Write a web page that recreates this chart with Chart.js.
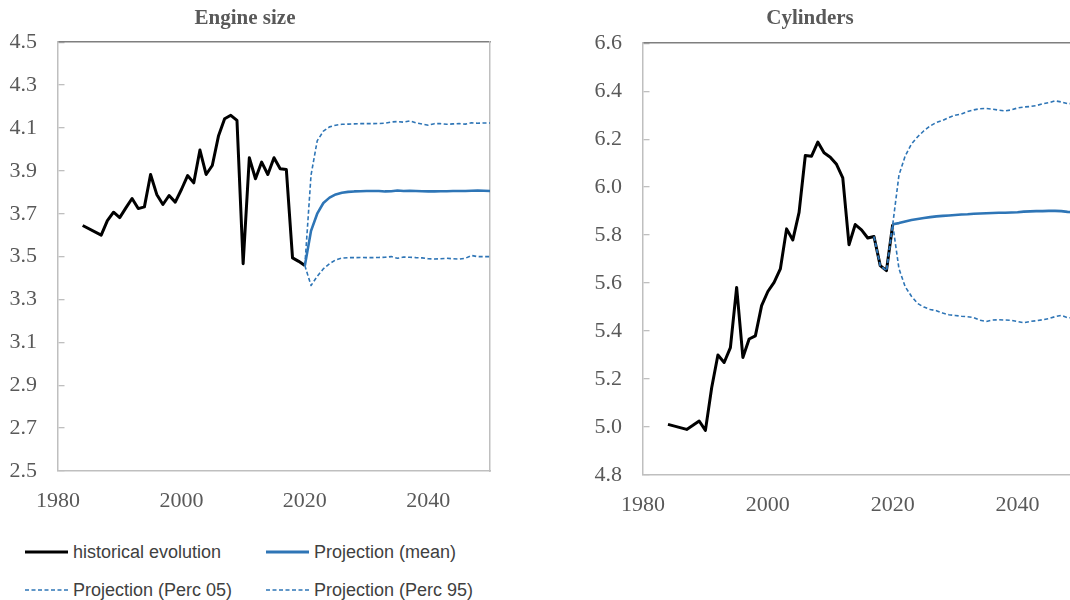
<!DOCTYPE html>
<html lang="en">
<head>
<meta charset="UTF-8">
<title>Engine size and cylinders</title>
<script src="https://cdn.jsdelivr.net/npm/chart.js"></script>
<style>
  html, body { margin: 0; padding: 0; background: #fff; width: 1070px; height: 600px; overflow: hidden; }
  #wrap { position: relative; width: 1070px; height: 600px; overflow: hidden; }
  .box { position: absolute; top: 0; }
  #legend {
    position: absolute; left: 25px; top: 533px;
    display: grid; grid-template-columns: 241px 260px;
    font-family: "Liberation Sans", Arial, sans-serif; font-size: 18px; color: #404040;
  }
  .item { display: flex; align-items: center; height: 38px; white-space: nowrap; }
  .item svg { margin-right: 5px; }
</style>
</head>
<body>
<div id="wrap">
  <div class="box" style="left:0;"><canvas id="engine" width="540" height="520"></canvas></div>
  <div class="box" style="left:540px;"><canvas id="cyl" width="630" height="520"></canvas></div>
  <div id="legend"></div>
</div>

<script>
// years for the historical series
const histYears = [1984, 1987, 1988, 1989, 1990, 1991, 1992, 1993, 1994, 1995, 1996, 1997, 1998, 1999,
  2000, 2001, 2002, 2003, 2004, 2005, 2006, 2007, 2008, 2009, 2010, 2011, 2012, 2013, 2014, 2015,
  2016, 2017, 2018, 2019, 2020];
// years for the projections
const projYears = [2020, 2021, 2022, 2023, 2024, 2025, 2026, 2027, 2028, 2029, 2030, 2031, 2032, 2033,
  2034, 2035, 2036, 2037, 2038, 2039, 2040, 2041, 2042, 2043, 2044, 2045, 2046, 2047, 2048, 2049, 2050];
const cylPercYears = [2017, 2018, 2019].concat(projYears);

const xTickValues = [1980, 2000, 2020, 2040];

// Engine size
const engineHist = [3.645, 3.60, 3.668, 3.707, 3.682, 3.727, 3.771, 3.724, 3.732, 3.883, 3.79, 3.743,
  3.785, 3.754, 3.813, 3.878, 3.844, 3.997, 3.883, 3.925, 4.062, 4.143, 4.159, 4.135, 3.467, 3.961,
  3.863, 3.941, 3.883, 3.961, 3.910, 3.906, 3.494, 3.478, 3.458];
const engineMean = [3.458, 3.62, 3.70, 3.75, 3.775, 3.79, 3.798, 3.802, 3.804, 3.805, 3.806, 3.806,
  3.806, 3.804, 3.805, 3.808, 3.806, 3.807, 3.806, 3.805, 3.804, 3.804, 3.805, 3.805, 3.806, 3.806,
  3.806, 3.807, 3.808, 3.807, 3.806];
const engineP05 = [3.458, 3.365, 3.408, 3.443, 3.467, 3.485, 3.493, 3.495, 3.495, 3.496, 3.495, 3.495,
  3.496, 3.497, 3.50, 3.492, 3.498, 3.497, 3.495, 3.494, 3.49, 3.489, 3.49, 3.492, 3.49, 3.488,
  3.492, 3.505, 3.50, 3.50, 3.50];
const engineP95 = [3.458, 3.88, 4.04, 4.085, 4.105, 4.113, 4.117, 4.118, 4.119, 4.12, 4.12, 4.12,
  4.121, 4.122, 4.128, 4.13, 4.127, 4.133, 4.124, 4.118, 4.113, 4.12, 4.12, 4.117, 4.119, 4.12,
  4.118, 4.124, 4.122, 4.123, 4.123];

// Cylinders
const cylHist = [5.011, 4.99, 5.007, 5.025, 4.986, 5.164, 5.30, 5.269, 5.331, 5.582, 5.29, 5.367,
  5.38, 5.506, 5.565, 5.603, 5.659, 5.826, 5.78, 5.895, 6.132, 6.129, 6.188, 6.143, 6.125, 6.095,
  6.039, 5.76, 5.844, 5.822, 5.788, 5.794, 5.673, 5.652, 5.844];
const cylMean = [5.845, 5.85, 5.857, 5.863, 5.867, 5.871, 5.875, 5.878, 5.88, 5.882, 5.884, 5.886,
  5.887, 5.889, 5.89, 5.891, 5.892, 5.893, 5.893, 5.894, 5.895, 5.898, 5.899, 5.9, 5.9, 5.901,
  5.901, 5.9, 5.897, 5.896, 5.895];
const cylP05 = [5.794, 5.673, 5.652, 5.844, 5.66, 5.585, 5.545, 5.515, 5.50, 5.49, 5.485, 5.475,
  5.468, 5.465, 5.462, 5.46, 5.456, 5.445, 5.44, 5.446, 5.447, 5.446, 5.445, 5.44, 5.435, 5.44,
  5.443, 5.447, 5.452, 5.46, 5.465, 5.456, 5.455, 5.455];
const cylP95 = [5.794, 5.673, 5.652, 5.844, 6.05, 6.13, 6.18, 6.21, 6.235, 6.255, 6.27, 6.278,
  6.29, 6.30, 6.305, 6.315, 6.322, 6.327, 6.328, 6.325, 6.321, 6.318, 6.322, 6.33, 6.334, 6.336,
  6.34, 6.347, 6.352, 6.36, 6.355, 6.348, 6.348, 6.35];

const BLUE = '#2e75b6';
const serif = 'Liberation Serif';
const tickColor = '#595959';

function pts(xs, ys) {
  return xs.map((x, i) => ({ x: x, y: ys[i] }));
}

function makeDatasets(hist, mean, p05, p95, percYears) {
  return [
    { label: 'historical evolution', data: pts(histYears, hist), borderColor: '#000000',
      borderWidth: 3, order: 3 },
    { label: 'Projection (mean)', data: pts(projYears, mean), borderColor: BLUE,
      borderWidth: 2.6, order: 2 },
    { label: 'Projection (Perc 05)', data: pts(percYears, p05), borderColor: BLUE,
      borderWidth: 1.6, borderDash: [4, 2.5], order: 1 },
    { label: 'Projection (Perc 95)', data: pts(percYears, p95), borderColor: BLUE,
      borderWidth: 1.6, borderDash: [4, 2.5], order: 1 }
  ];
}

function makeChart(id, opt) {
  return new Chart(document.getElementById(id), {
    type: 'line',
    data: { datasets: opt.datasets },
    options: {
      responsive: false,
      animation: false,
      devicePixelRatio: 1,
      elements: {
        point: { radius: 0, hoverRadius: 0 },
        line: { tension: 0, borderJoinStyle: 'round', borderCapStyle: 'butt', fill: false }
      },
      layout: { padding: { left: 0, right: opt.padRight, top: 0, bottom: 0 } },
      plugins: {
        legend: { display: false },
        tooltip: { enabled: false },
        title: {
          display: true,
          text: opt.title,
          color: tickColor,
          font: { family: serif, size: 21, weight: 'bold' },
          padding: { top: 6, bottom: opt.titleGap }
        }
      },
      scales: {
        x: {
          type: 'linear', position: 'bottom', min: 1980, max: 2050,
          afterBuildTicks: s => { s.ticks = xTickValues.map(v => ({ value: v })); },
          afterFit: s => { s.height = opt.xHeight; },
          grid: { display: false },
          border: { display: true, color: '#bfbfbf', width: 1.5 },
          ticks: { color: tickColor, font: { family: serif, size: 22 }, padding: 9,
                   maxRotation: 0, autoSkip: false, callback: v => String(v) }
        },
        xTop: {
          type: 'linear', position: 'top', min: 1980, max: 2050,
          afterFit: s => { s.height = 0; },
          grid: { display: false, drawTicks: false },
          border: { display: true, color: '#7f7f7f', width: 1.5 },
          ticks: { display: false }
        },
        y: {
          min: opt.yMin, max: opt.yMax,
          afterFit: s => { s.width = opt.yWidth; },
          grid: { color: '#bfbfbf', lineWidth: 1.3, drawTicks: false },
          border: { display: true, color: '#bfbfbf', width: 1.5, dash: [6, 3000] },
          ticks: { stepSize: 0.2, color: tickColor, font: { family: serif, size: 22 }, padding: 21,
                   callback: v => Number(v).toFixed(1) }
        },
        yRight: {
          position: 'right', min: opt.yMin, max: opt.yMax,
          afterFit: s => { s.width = 0; },
          grid: { display: false, drawTicks: false },
          border: { display: true, color: '#bfbfbf', width: 1.5 },
          ticks: { display: false }
        }
      }
    }
  });
}

const engineChart = makeChart('engine', {
  title: 'Engine size',
  datasets: makeDatasets(engineHist, engineMean, engineP05, engineP95, projYears),
  yMin: 2.5, yMax: 4.5, yWidth: 58, padRight: 50, xHeight: 49, titleGap: 11
});

const cylChart = makeChart('cyl', {
  title: 'Cylinders',
  datasets: makeDatasets(cylHist, cylMean, cylP05, cylP95, cylPercYears),
  yMin: 4.8, yMax: 6.6, yWidth: 103, padRight: 90, xHeight: 45, titleGap: 12
});

// HTML legend built from the first chart's datasets
const legendEl = document.getElementById('legend');
engineChart.data.datasets.forEach(ds => {
  const item = document.createElement('div');
  item.className = 'item';
  const dash = ds.borderDash ? ds.borderDash.join(' ') : 'none';
  const w = ds.borderDash ? 1.6 : 3;
  item.innerHTML =
    '<svg width="43" height="8"><line x1="0" y1="4" x2="43" y2="4" stroke="' + ds.borderColor +
    '" stroke-width="' + w + '" stroke-dasharray="' + dash + '"/></svg>';
  const span = document.createElement('span');
  span.textContent = ds.label;
  item.appendChild(span);
  legendEl.appendChild(item);
});
</script>
</body>
</html>
